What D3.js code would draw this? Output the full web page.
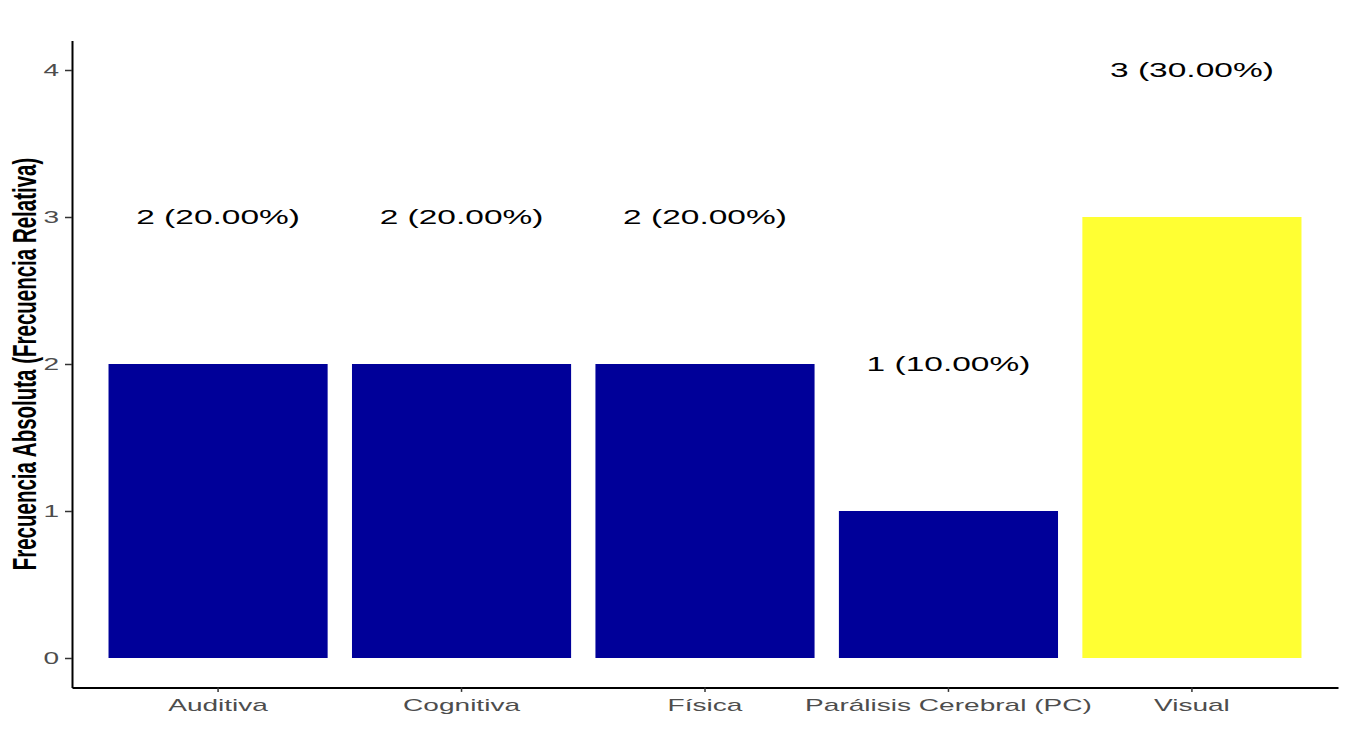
<!DOCTYPE html>
<html>
<head>
<meta charset="utf-8">
<script src="https://cdn.jsdelivr.net/npm/d3@7"></script>
<style>
  body { margin: 0; background: #fff; }
  text { font-family: "Liberation Sans", Arial, sans-serif; }
</style>
</head>
<body>
<div id="chart"></div>
<script>
// data
var categories = ["Auditiva", "Cognitiva", "Física", "Parálisis Cerebral (PC)", "Visual"];
var counts = [2, 2, 2, 1, 3];
var yTicks = [0, 1, 2, 3, 4];

var width = 1350;
var height = 750;
var sx = 1.65; // the original picture is stretched sideways

var margin = {
    "top": 40.6,
    "left": 72,
    "bottom": 62.6,
    "right": 12
};

var total = d3.sum(counts);
var data = categories.map(function(c, i){
    return {"cat": c, "n": counts[i]};
});
var maxN = d3.max(counts);

var svg = d3.select("#chart").append("svg")
    .attr("width", width)
    .attr("height", height);

var x = d3.scaleBand()
    .domain(categories)
    .range([margin.left, width - margin.right])
    .paddingInner(0.1)
    .paddingOuter(0.15);

var y = d3.scaleLinear()
    .domain([-0.2, 4.2])
    .range([height - margin.bottom, margin.top]);

// bars
svg.append("g").selectAll("rect")
    .data(data)
    .enter()
    .append("rect")
    .attr("x", function(d){ return x(d.cat); })
    .attr("y", function(d){ return y(d.n); })
    .attr("width", x.bandwidth())
    .attr("height", function(d){ return y(0) - y(d.n); })
    .attr("fill", function(d){ return d.n == maxN ? "#ffff33" : "#000099"; });

// labels above bars
svg.append("g").selectAll("text")
    .data(data)
    .enter()
    .append("text")
    .attr("transform", function(d){
        return "translate(" + (x(d.cat) + x.bandwidth() / 2) + "," + y(d.n + 1) + ") scale(" + sx + ",1)";
    })
    .attr("text-anchor", "middle")
    .attr("dominant-baseline", "central")
    .attr("font-size", 20.3)
    .attr("fill", "#000")
    .text(function(d){
        return d.n + " (" + (d.n / total * 100).toFixed(2) + "%)";
    });

// axes
var yAxis = svg.append("g")
    .attr("transform", "translate(" + margin.left + ",0)")
    .call(d3.axisLeft(y).tickValues(yTicks).tickFormat(d3.format("d"))
        .tickSizeInner(7).tickSizeOuter(0).tickPadding(5));

var xAxis = svg.append("g")
    .attr("transform", "translate(0," + (height - margin.bottom) + ")")
    .call(d3.axisBottom(x).tickSizeInner(4.5).tickSizeOuter(0).tickPadding(7));

[yAxis, xAxis].forEach(function(a){
    a.select(".domain").attr("stroke", "#000").attr("stroke-width", 2);
    a.selectAll(".tick line").attr("stroke", "#333").attr("stroke-width", 1.5);
});

yAxis.selectAll(".tick text")
    .attr("x", null)
    .attr("dy", null)
    .attr("dominant-baseline", "central")
    .attr("transform", "translate(-13,0) scale(" + sx + ",1)")
    .attr("font-size", 17)
    .attr("font-family", "Liberation Sans, Arial, sans-serif")
    .attr("fill", "#4d4d4d");

xAxis.selectAll(".tick text")
    .attr("transform", "scale(" + sx + ",1)")
    .attr("font-size", 17)
    .attr("font-family", "Liberation Sans, Arial, sans-serif")
    .attr("fill", "#4d4d4d");

// y title
svg.append("text")
    .attr("transform", "translate(25," + ((margin.top + height - margin.bottom) / 2) + ") scale(" + sx + ",1) rotate(-90)")
    .attr("text-anchor", "middle")
    .attr("dominant-baseline", "central")
    .attr("font-size", 20.5)
    .attr("font-weight", "bold")
    .attr("fill", "#000")
    .text("Frecuencia Absoluta (Frecuencia Relativa)");
</script>
</body>
</html>
